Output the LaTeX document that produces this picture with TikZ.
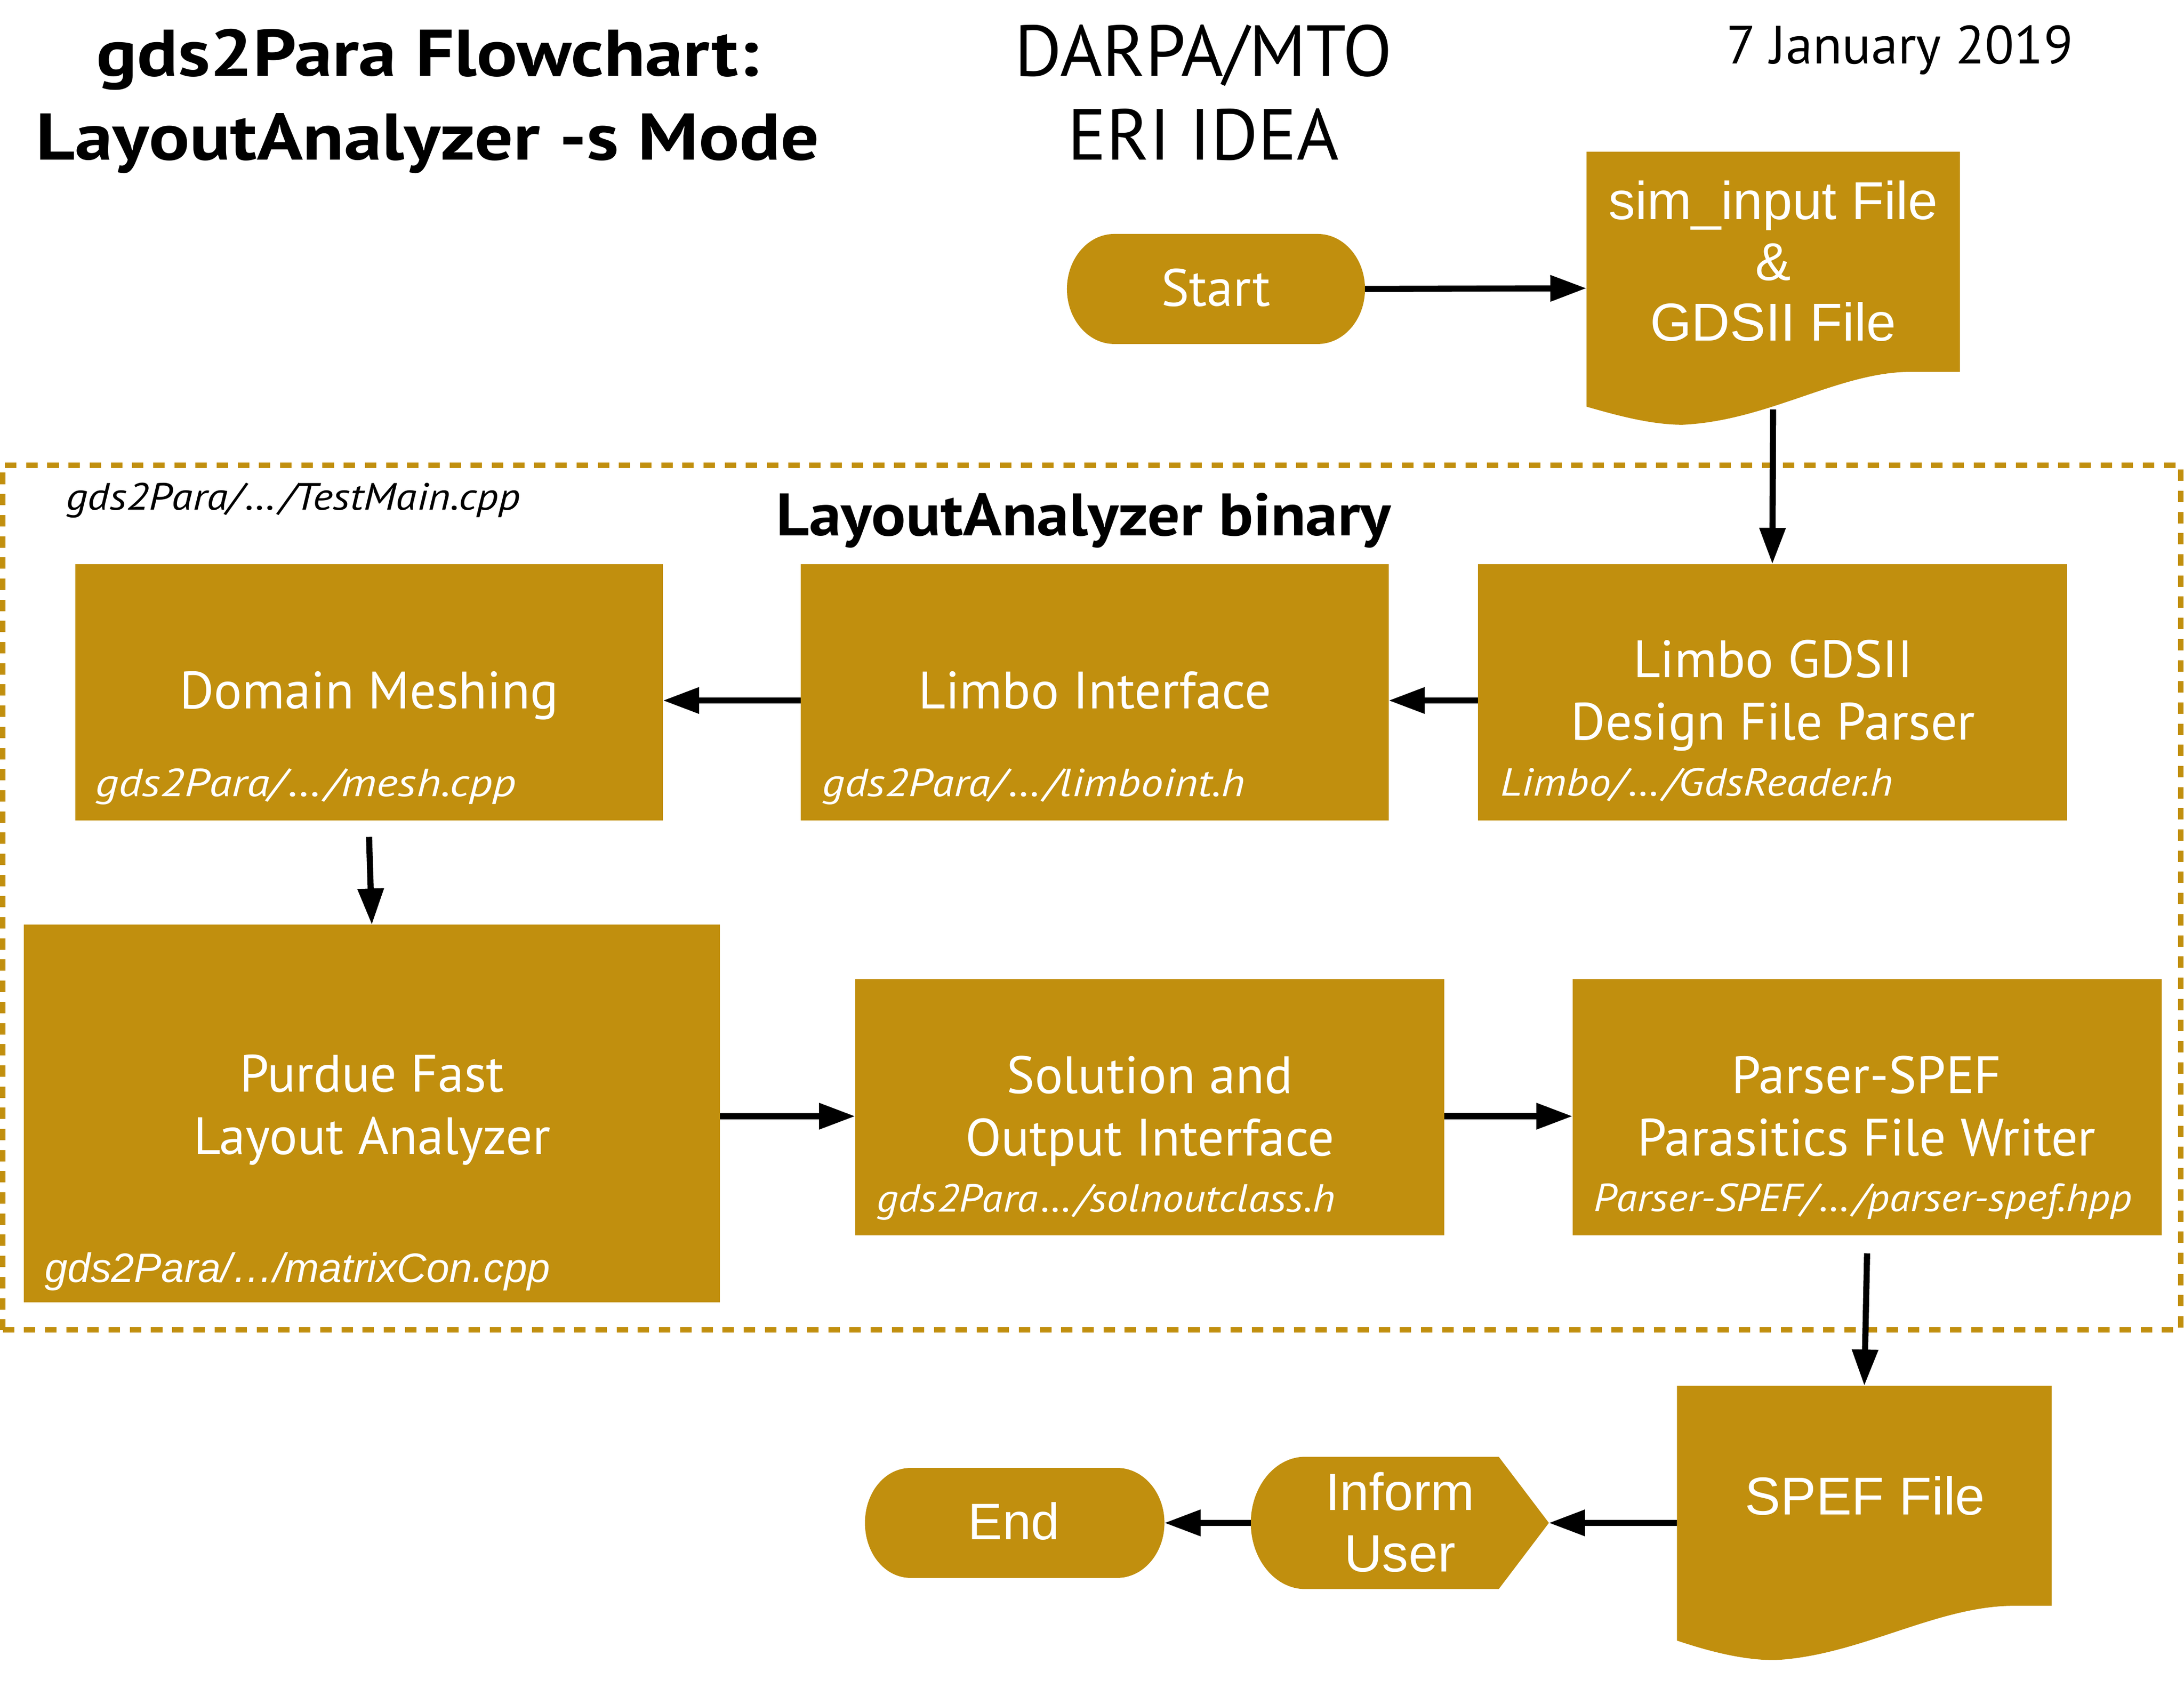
\documentclass[tikz,border=0pt]{standalone}
\usepackage{fontspec}
\usepackage{graphicx}
\setmainfont{PT Sans}
\newfontfamily\arialf{Liberation Sans}
\usetikzlibrary{arrows.meta}
\definecolor{gold}{RGB}{193,143,14}
\newcommand{\mlines}[1]{\begin{tabular}[t]{@{}c@{}}#1\end{tabular}}
\newcommand{\fs}[2]{\fontsize{#1}{#2}\selectfont}
\newcommand{\ellp}{\kern1.3pt…\kern1.3pt}
\begin{document}
\begin{tikzpicture}[x=0.02cm,y=-0.02cm,
  box/.style={fill=gold, inner sep=0pt, outer sep=0pt, anchor=north west},
  framebox/.style={inner sep=0pt, outer sep=0pt, anchor=north west},
  ttl/.style={text=white, font=\fs{21.5}{25.5}, anchor=base, inner sep=0pt},
  lbl/.style={text=white, font=\fs{16}{19}\itshape, anchor=base west, inner sep=0pt},
  atxt/.style={text=white, anchor=base, inner sep=0pt},
  arr/.style={line width=2.5pt, -{Triangle[length=0.52cm,width=0.36cm]}},
  dashframe/.style={draw=gold, line width=0.08cm, dash pattern=on 0.164cm off 0.14cm, inner sep=0pt, outer sep=0pt, anchor=north west}
]
\useasboundingbox (0,0) rectangle (1568,1212);

% dashed binary frame
\node[dashframe, minimum width=31.28cm, minimum height=12.42cm] (binframe) at (2,334) {};

% header texts
\node[anchor=base, inner sep=0pt, font=\fs{27}{34.4}\bfseries] (title) at (307,54.5) {\scalebox{1.15}[1]{\mlines{gds2Para Flowchart:\\LayoutAnalyzer -s Mode}}};
\node[anchor=base, inner sep=0pt, font=\fs{29.5}{34.4}] (darpa) at (864,54.5) {\mlines{DARPA/MTO\\ERI IDEA}};
\node[anchor=base, inner sep=0pt, font=\fs{22}{26}] (date) at (1364,45.7) {7 January 2019};

% terminal / document / display shapes
\fill[gold] (800,168) -- (946,168) .. controls (964.8,168) and (980,185.7) .. (980,207.5) .. controls (980,229.3) and (964.8,247) .. (946,247) -- (800,247) .. controls (781.2,247) and (766,229.3) .. (766,207.5) .. controls (766,185.7) and (781.2,168) .. (800,168) -- cycle;
\fill[gold] (1139,109) -- (1407,109) -- (1407,267) -- (1372,267) .. controls (1320,267) and (1270,302) .. (1208,305) .. controls (1185,305) and (1160,298) .. (1139,292) -- cycle;
\fill[gold] (1204,995) -- (1473,995) -- (1473,1153) -- (1446,1153) .. controls (1390,1153) and (1335,1189) .. (1274,1192) .. controls (1250,1192) and (1225,1185) .. (1204,1178) -- cycle;
\fill[gold] (937,1046) -- (1076,1046) -- (1112,1093.5) -- (1076,1141) -- (937,1141) .. controls (915.5,1141) and (898,1119.7) .. (898,1093.5) .. controls (898,1067.3) and (915.5,1046) .. (937,1046) -- cycle;
\fill[gold] (654,1054) -- (802,1054) .. controls (820.8,1054) and (836,1071.7) .. (836,1093.5) .. controls (836,1115.3) and (820.8,1133) .. (802,1133) -- (654,1133) .. controls (635.2,1133) and (621,1115.3) .. (621,1093.5) .. controls (621,1071.7) and (635.2,1054) .. (654,1054) -- cycle;

\node[framebox, minimum width=4.28cm, minimum height=1.58cm] (start) at (766,168) {};
\node[framebox, minimum width=5.36cm, minimum height=3.92cm] (sim) at (1139,109) {};
\node[framebox, minimum width=5.38cm, minimum height=3.94cm] (spef) at (1204,995) {};
\node[framebox, minimum width=4.28cm, minimum height=1.90cm] (inform) at (898,1046) {};
\node[framebox, minimum width=4.30cm, minimum height=1.58cm] (end) at (621,1054) {};

\node[anchor=base, inner sep=0pt, text=white, font=\fs{21.5}{25.5}] (starttxt) at (873,219.8) {Start};
\node[atxt, font=\arialf\fs{21.8}{24.9}] (simtxt) at (1273,157.4) {\mlines{sim\_input File\\\&\\GDSII File}};
\node[atxt, font=\arialf\fs{21.8}{25}] (speftxt) at (1339,1087.5) {SPEF File};
\node[atxt, font=\arialf\fs{21.5}{25.1}] (informtxt) at (1005,1084.6) {\mlines{Inform\\User}};
\node[atxt, font=\arialf\fs{21}{25}] (endtxt) at (728,1105.4) {End};

% binary frame texts
\node[anchor=base west, inner sep=0pt, font=\fs{15.5}{18}\itshape] (testmain) at (47,366) {\scalebox{1.134}[1]{gds2Para/\ellp/TestMain.cpp}};
\node[anchor=base, inner sep=0pt, font=\fs{24.5}{28}\bfseries] (bintitle) at (778,384.7) {\scalebox{1.073}[1]{LayoutAnalyzer binary}};

% process boxes
\node[box, minimum width=8.44cm, minimum height=3.68cm] (dm) at (54,405) {};
\node[box, minimum width=8.44cm, minimum height=3.68cm] (li) at (575,405) {};
\node[box, minimum width=8.46cm, minimum height=3.68cm] (lg) at (1061,405) {};
\node[box, minimum width=10.0cm, minimum height=5.42cm] (pf) at (17,664) {};
\node[box, minimum width=8.46cm, minimum height=3.68cm] (sol) at (614,703) {};
\node[box, minimum width=8.46cm, minimum height=3.68cm] (par) at (1129,703) {};

\node[ttl] (dmtxt) at (265,509) {Domain Meshing};
\node[lbl] (dmlbl) at (68,572) {\scalebox{1.182}[1]{gds2Para/\ellp/mesh.cpp}};
\node[ttl] (litxt) at (786,509) {Limbo Interface};
\node[lbl] (lilbl) at (590,572) {\scalebox{1.141}[1]{gds2Para/\ellp/limboint.h}};
\node[ttl] (lgtxt) at (1273,486.5) {\mlines{Limbo GDSII\\Design File Parser}};
\node[lbl] (lglbl) at (1077,571.4) {\scalebox{1.113}[1]{Limbo/\ellp/GdsReader.h}};
\node[ttl] (pftxt) at (267,784) {\mlines{Purdue Fast\\Layout Analyzer}};
\node[anchor=base west, inner sep=0pt, text=white, font=\arialf\fs{16.8}{19}\itshape] (pflbl) at (32,920.8) {gds2Para/…/matrixCon.cpp};
\node[ttl] (soltxt) at (825.5,785) {\mlines{Solution and\\Output Interface}};
\node[lbl] (sollbl) at (629,870) {\scalebox{1.094}[1]{gds2Para\ellp/solnoutclass.h}};
\node[ttl] (partxt) at (1340,785) {\mlines{Parser-SPEF\\Parasitics File Writer}};
\node[lbl] (parlbl) at (1144,869.8) {\scalebox{1.087}[1]{Parser-SPEF/\ellp/parser-spef.hpp}};

% connectors
\draw[arr] (start.east) -- (sim.west);
\draw[arr] ([yshift=0.22cm]sim.south) -- (lg.north);
\draw[arr] ([yshift=-0.12cm]lg.west) -- ([yshift=-0.12cm]li.east);
\draw[arr] ([yshift=-0.12cm]li.west) -- ([yshift=-0.12cm]dm.east);
\draw[arr] ([yshift=-0.24cm]dm.south) -- (pf.north);
\draw[arr] ([yshift=-0.04cm]pf.east) -- ([yshift=-0.13cm]sol.west);
\draw[arr] ([yshift=-0.13cm]sol.east) -- ([yshift=-0.13cm]par.west);
\draw[arr] ([yshift=-0.26cm]par.south) -- (spef.north);
\draw[arr] (spef.west) -- (inform.east);
\draw[arr] (inform.west) -- (end.east);
\end{tikzpicture}
\end{document}
